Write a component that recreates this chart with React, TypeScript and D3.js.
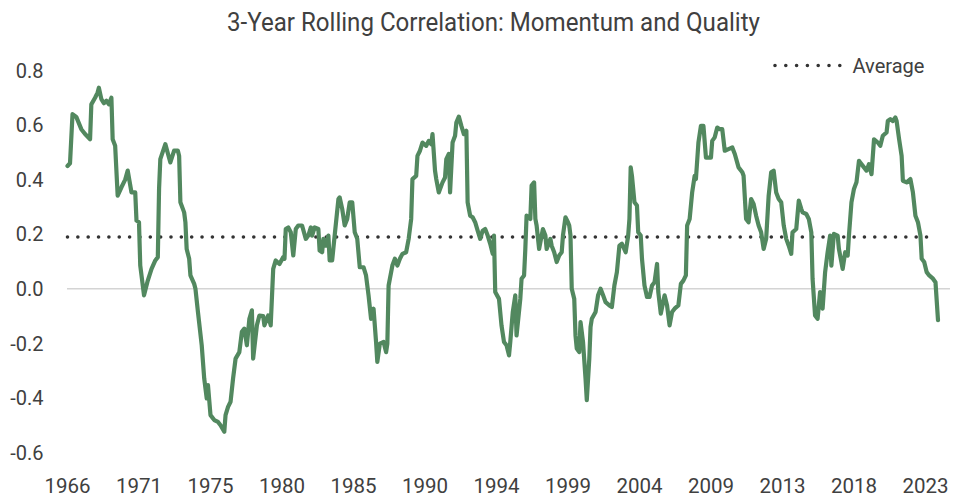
import React from "react";
import * as d3 from "d3";

const title = "3-Year Rolling Correlation: Momentum and Quality";
const legendLabel = "Average";
const averageValue = 0.19;

// x position in months since the first observation (monthly series)
const months = [
  0, 2, 4, 7, 11, 14, 18, 19, 22, 24, 25, 27, 29, 31, 33, 35, 36, 38, 40, 43,
  46, 48, 51, 54, 55, 57, 58, 61, 64, 67, 70, 72, 73, 74, 78, 82, 85, 88, 89, 90,
  93, 94, 95, 97, 98, 101, 102, 104, 107, 109, 111, 112, 114, 117, 120, 122, 125, 126, 128, 130,
  132, 134, 137, 139, 141, 143, 145, 147, 148, 151, 153, 156, 157, 160, 162, 164, 166, 169, 172, 173,
  174, 176, 178, 180, 182, 184, 187, 190, 192, 194, 195, 197, 200, 201, 203, 204, 206, 208, 209, 211,
  213, 216, 217, 219, 221, 223, 225, 227, 229, 231, 233, 236, 238, 240, 242, 244, 246, 247, 249, 252,
  254, 255, 256, 259, 261, 263, 265, 267, 270, 272, 274, 275, 278, 279, 281, 283, 286, 288, 290, 291,
  293, 294, 296, 299, 301, 302, 304, 305, 307, 309, 310, 312, 314, 316, 318, 319, 321, 323, 325, 327,
  329, 331, 333, 335, 337, 339, 340, 341, 344, 346, 348, 350, 352, 353, 355, 357, 358, 361, 362, 364,
  365, 366, 369, 370, 372, 373, 374, 376, 378, 379, 381, 382, 385, 386, 388, 390, 392, 394, 395, 397,
  399, 400, 401, 402, 404, 405, 406, 408, 409, 411, 413, 414, 416, 417, 418, 421, 423, 425, 427, 429,
  432, 434, 436, 438, 440, 442, 445, 447, 448, 449, 450, 452, 454, 455, 457, 458, 460, 462, 464, 466,
  468, 470, 471, 473, 476, 478, 480, 482, 484, 487, 489, 491, 493, 494, 496, 498, 500, 501, 503, 505,
  507, 509, 511, 513, 514, 516, 518, 520, 522, 524, 527, 530, 532, 535, 538, 539, 541, 543, 545, 547,
  549, 551, 553, 555, 557, 559, 561, 563, 565, 567, 569, 571, 573, 575, 577, 578, 581, 583, 585, 586,
  589, 591, 593, 594, 596, 598, 600, 602, 604, 606, 608, 609, 611, 614, 615, 618, 620, 622, 623, 625,
  627, 629, 631, 632, 635, 637, 639, 641, 643, 646, 648, 650, 653, 654, 656, 658, 660, 661, 663, 665,
  666, 669, 672, 674, 676, 678, 680, 681, 683, 685, 687, 690, 692, 694,
];

const correlation = [
  0.45, 0.46, 0.64, 0.63, 0.585, 0.567, 0.548, 0.676, 0.70, 0.719, 0.737, 0.695, 0.68, 0.689, 0.676, 0.70, 0.548, 0.524, 0.341, 0.372,
  0.40, 0.433, 0.353, 0.353, 0.25, 0.244, 0.085, -0.024, 0.03, 0.073, 0.104, 0.116, 0.366, 0.475, 0.53, 0.463, 0.506, 0.506, 0.487, 0.317,
  0.28, 0.244, 0.146, 0.11, 0.049, 0.018, 0.0, -0.085, -0.207, -0.329, -0.402, -0.353, -0.463, -0.481, -0.488, -0.50, -0.524, -0.463, -0.433, -0.414,
  -0.329, -0.256, -0.232, -0.158, -0.146, -0.207, -0.11, -0.079, -0.256, -0.134, -0.098, -0.10, -0.134, -0.098, -0.134, 0.073, 0.104, 0.091, 0.116, 0.11,
  0.219, 0.225, 0.207, 0.122, 0.219, 0.232, 0.232, 0.183, 0.195, 0.225, 0.195, 0.225, 0.219, 0.14, 0.134, 0.183, 0.158, 0.195, 0.104, 0.104,
  0.195, 0.329, 0.335, 0.293, 0.232, 0.256, 0.317, 0.317, 0.207, 0.183, 0.079, 0.079, 0.049, -0.024, -0.11, -0.073, -0.195, -0.268, -0.201, -0.195,
  -0.232, -0.201, 0.012, 0.085, 0.11, 0.085, 0.11, 0.128, 0.134, 0.183, 0.256, 0.402, 0.414, 0.487, 0.506, 0.536, 0.524, 0.542, 0.53, 0.567,
  0.433, 0.402, 0.353, 0.39, 0.408, 0.475, 0.494, 0.353, 0.536, 0.561, 0.609, 0.631, 0.597, 0.567, 0.579, 0.317, 0.268, 0.262, 0.244, 0.213,
  0.183, 0.213, 0.219, 0.195, 0.165, 0.128, 0.195, -0.012, -0.037, -0.134, -0.195, -0.207, -0.244, -0.195, -0.085, -0.024, -0.171, -0.037, 0.037, 0.049,
  0.146, 0.268, 0.256, 0.378, 0.39, 0.256, 0.232, 0.146, 0.195, 0.219, 0.195, 0.146, 0.183, 0.158, 0.134, 0.098, 0.122, 0.134, 0.195, 0.262,
  0.244, 0.232, 0.195, 0.0, -0.037, -0.171, -0.219, -0.232, -0.122, -0.195, -0.329, -0.408, -0.256, -0.14, -0.11, -0.085, -0.024, 0.0, -0.024, -0.049,
  -0.061, -0.067, 0.012, 0.061, 0.158, 0.165, 0.134, 0.195, 0.256, 0.445, 0.414, 0.317, 0.305, 0.207, 0.195, 0.11, 0.012, -0.03, -0.03, 0.012,
  0.024, 0.091, -0.012, -0.091, -0.024, -0.061, -0.134, -0.085, -0.073, -0.061, 0.018, 0.03, 0.049, 0.232, 0.256, 0.353, 0.414, 0.402, 0.536, 0.597,
  0.597, 0.481, 0.481, 0.481, 0.542, 0.555, 0.591, 0.585, 0.585, 0.506, 0.512, 0.518, 0.494, 0.445, 0.427, 0.414, 0.256, 0.244, 0.329, 0.311,
  0.268, 0.232, 0.207, 0.146, 0.183, 0.341, 0.427, 0.433, 0.353, 0.329, 0.317, 0.232, 0.183, 0.158, 0.128, 0.207, 0.219, 0.323, 0.293, 0.28,
  0.274, 0.256, 0.207, 0.037, -0.098, -0.11, -0.012, -0.073, 0.061, 0.134, 0.195, 0.085, 0.201, 0.195, 0.146, 0.073, 0.134, 0.122, 0.195, 0.317,
  0.366, 0.39, 0.469, 0.463, 0.445, 0.433, 0.457, 0.42, 0.548, 0.536, 0.524, 0.561, 0.573, 0.615, 0.622, 0.615, 0.628, 0.615, 0.548, 0.487,
  0.396, 0.39, 0.402, 0.353, 0.268, 0.244, 0.195, 0.11, 0.098, 0.061, 0.049, 0.037, 0.024, -0.115,
];

const yTicks = [0.8, 0.6, 0.4, 0.2, 0.0, -0.2, -0.4, -0.6];
const xTickMonths = [0, 57, 114, 171, 228, 285, 342, 399, 456, 513, 570, 627, 684];
const xTickLabels = ["1966", "1971", "1975", "1980", "1985", "1990", "1994", "1999", "2004", "2009", "2013", "2018", "2023"];

const W = 953;
const H = 501;
const FONT = "Roboto, 'Noto Sans', sans-serif";
const TEXT = "#404040";
const GREEN = "#52885f";

export default function App() {
  const x = d3.scaleLinear().domain([0, 694]).range([67.5, 938]);
  const y = d3.scaleLinear().domain([-0.6, 0.8]).range([452.5, 70.5]);

  const data = months.map((m, i) => [m, correlation[i]] as [number, number]);
  const line = d3
    .line<[number, number]>()
    .x((d) => x(d[0]))
    .y((d) => y(d[1]));

  return (
    <svg
      width={W}
      height={H}
      style={{ position: "absolute", left: 0, top: 0, background: "#fff" }}
    >
      <rect x={0} y={0} width={W} height={H} fill="#fff" />
      <text
        x={493.5}
        y={30.5}
        textAnchor="middle"
        fontFamily={FONT}
        fontSize={25}
        fill={TEXT}
        textLength={533}
        lengthAdjust="spacingAndGlyphs"
      >
        {title}
      </text>

      {yTicks.map((t) => (
        <text
          key={t}
          x={43.5}
          y={y(t)}
          dy="0.36em"
          textAnchor="end"
          fontFamily={FONT}
          fontSize={20}
          fill={TEXT}
        >
          {t.toFixed(1)}
        </text>
      ))}

      <line x1={67} x2={950} y1={y(0)} y2={y(0)} stroke="#d4d4d4" strokeWidth={1.5} />

      {xTickMonths.map((m, i) => (
        <text
          key={m}
          x={x(m)}
          y={493}
          textAnchor="middle"
          fontFamily={FONT}
          fontSize={20.5}
          fill={TEXT}
        >
          {xTickLabels[i]}
        </text>
      ))}

      <line
        x1={x(0)}
        x2={x(688)}
        y1={y(averageValue)}
        y2={y(averageValue)}
        stroke="#333"
        strokeWidth={3.6}
        strokeLinecap="round"
        strokeDasharray="0 10.35"
      />

      <path
        d={line(data) || ""}
        fill="none"
        stroke={GREEN}
        strokeWidth={4.2}
        strokeLinejoin="round"
        strokeLinecap="round"
      />

      <line
        x1={775}
        x2={840}
        y1={65.5}
        y2={65.5}
        stroke="#333"
        strokeWidth={3.6}
        strokeLinecap="round"
        strokeDasharray="0 10.8"
      />
      <text
        x={852.5}
        y={73}
        fontFamily={FONT}
        fontSize={21}
        fill={TEXT}
        textLength={72}
        lengthAdjust="spacingAndGlyphs"
      >
        {legendLabel}
      </text>
    </svg>
  );
}
